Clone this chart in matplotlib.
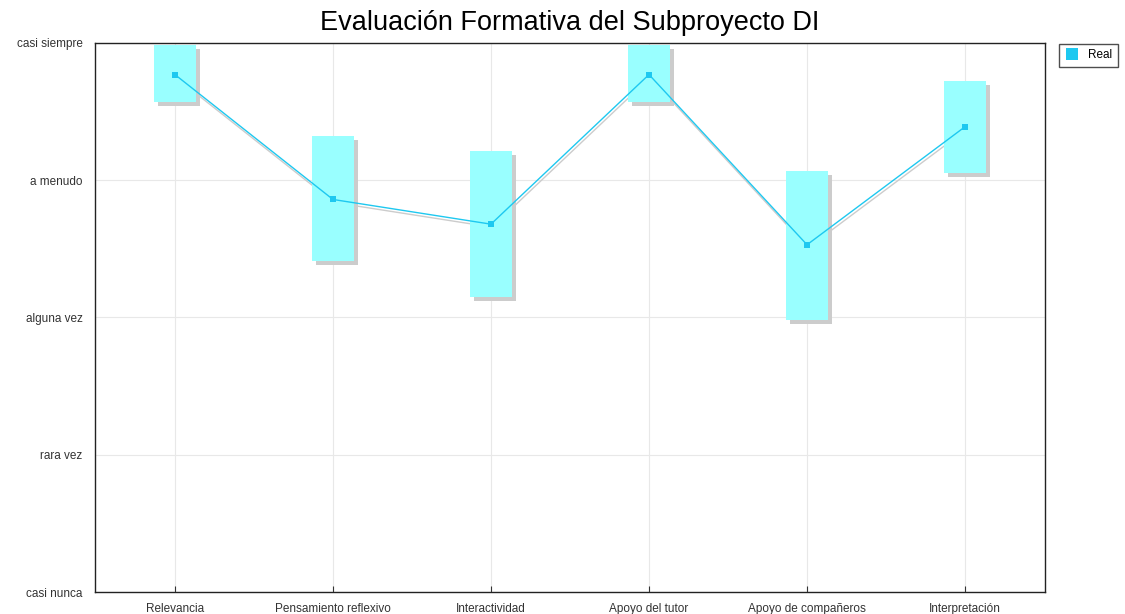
import matplotlib
matplotlib.use("Agg")
import matplotlib.pyplot as plt
import matplotlib.transforms as mtransforms
from matplotlib.patches import Rectangle
import numpy as np

plt.rcParams["font.family"] = ["Liberation Sans", "DejaVu Sans"]

categories = ["Relevancia", "Pensamiento reflexivo", "Interactividad",
              "Apoyo del tutor", "Apoyo de compañeros", "Interpretación"]
means = [4.77, 3.86, 3.68, 4.77, 3.53, 4.39]
box_top = [4.985, 4.32, 4.21, 4.985, 4.07, 4.72]
box_bottom = [4.57, 3.41, 3.15, 4.57, 2.98, 4.05]
level_labels = ["casi nunca", "rara vez", "alguna vez", "a menudo", "casi siempre"]
level_values = [1, 2, 3, 4, 5]

fill_color = "#99ffff"
line_color = "#1ec8f0"
shadow_color = "#cccccc"
box_w = 0.27

fig = plt.figure(figsize=(11.25, 6.14), dpi=100)
ax = fig.add_axes([0.0844, 0.0358, 0.8445, 0.8942])

x = np.arange(len(categories))
shadow = mtransforms.offset_copy(ax.transData, fig=fig, x=4, y=-4, units="dots")
shadow_line = mtransforms.offset_copy(ax.transData, fig=fig, x=1, y=-3, units="dots")

for xi, lo, hi in zip(x, box_bottom, box_top):
    ax.add_patch(Rectangle((xi - box_w / 2, lo), box_w, hi - lo,
                           facecolor=shadow_color, edgecolor="none",
                           transform=shadow, zorder=2))
    ax.add_patch(Rectangle((xi - box_w / 2, lo), box_w, hi - lo,
                           facecolor=fill_color, edgecolor="none", zorder=3))

ax.plot(x, means, color=shadow_color, lw=1.0, transform=shadow_line, zorder=2.5)
ax.plot(x, means, color=line_color, lw=1.0, marker="s", markersize=4,
        markeredgewidth=0, zorder=4)

ax.set_xlim(-0.506, len(categories) - 1 + 0.506)
ax.set_ylim(1, 5)
ax.set_xticks(x)
ax.set_xticklabels(categories, fontsize=8.5, color="#333333")
ax.set_yticks(level_values)
ax.set_yticklabels(level_labels, fontsize=8.5, color="#333333")
ax.tick_params(axis="x", direction="in", length=4, pad=8, color="#333333")
ax.tick_params(axis="y", length=0, pad=9)
ax.grid(True, color="#e8e8e8", lw=0.8)
ax.set_axisbelow(True)
for sp in ax.spines.values():
    sp.set_color("#222222")
    sp.set_linewidth(1.0)

ax.set_title("Evaluación Formativa del Subproyecto DI", fontsize=19.5, pad=9)

handle = plt.Line2D([], [], color=line_color, marker="s", linestyle="none",
                    markersize=8, markeredgewidth=0)
fig.legend([handle], ["Real"], loc="upper left", bbox_to_anchor=(0.941, 0.929),
           fontsize=8.5, frameon=True, fancybox=False, edgecolor="#222222",
           handlelength=1.2, handletextpad=0.8, borderpad=0.5, borderaxespad=0)

fig.savefig("out.png", dpi=100)
